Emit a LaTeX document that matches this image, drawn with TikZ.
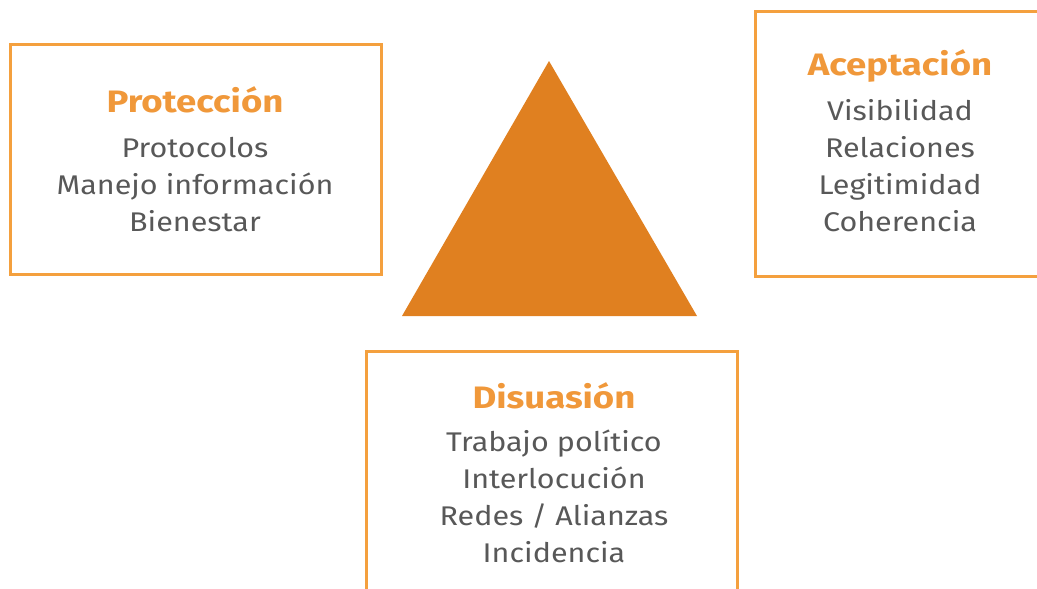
\documentclass[tikz,border=0pt]{standalone}
\usepackage{fontspec}
\setmainfont{Fira Sans}
\newfontfamily\bodyfont{Fira Sans}[FakeStretch=1.13]
\newfontfamily\titlefont{Fira Sans}[FakeStretch=1.18]
\definecolor{boxorange}{HTML}{F4A03E}
\definecolor{titleorange}{HTML}{F0983A}
\definecolor{triorange}{HTML}{E08020}
\definecolor{textgray}{HTML}{585858}
\tikzset{
  frame/.style={draw=boxorange, line width=3pt},
  ttl/.style={anchor=base, text=titleorange, inner sep=0pt, font=\titlefont\fontsize{31}{36}\selectfont\bfseries},
  itm/.style={anchor=base, text=textgray, inner sep=0pt, font=\bodyfont\fontsize{27}{32}\selectfont},
}
\begin{document}
\begin{tikzpicture}[x=1pt,y=-1pt]
\useasboundingbox (0,0) rectangle (1037,589);
\clip (0,0) rectangle (1037,589);
% triangle
\fill[triorange] (549,61) -- (697,316) -- (402,316) -- cycle;
% Protección
\draw[frame] (10,44) rectangle (381,274);
\node[ttl] (pt) at (195,112) {Protección};
\node[itm] (p1) at (195,157) {Protocolos};
\node[itm] (p2) at (195,194) {Manejo información};
\node[itm] (p3) at (195,231) {Bienestar};
% Aceptación
\draw[frame] (755,11) rectangle (1050,276);
\node[ttl] (at) at (900,75) {Aceptación};
\node[itm] (a1) at (900,120) {Visibilidad};
\node[itm] (a2) at (900,157) {Relaciones};
\node[itm] (a3) at (900,194) {Legitimidad};
\node[itm] (a4) at (900,231) {Coherencia};
% Disuasión
\draw[frame] (366,351) rectangle (737,620);
\node[ttl] (dt) at (554,408) {Disuasión};
\node[itm] (d1) at (554,451) {Trabajo político};
\node[itm] (d2) at (554,488) {Interlocución};
\node[itm] (d3) at (554,525) {Redes / Alianzas};
\node[itm] (d4) at (554,562) {Incidencia};
\end{tikzpicture}
\end{document}
